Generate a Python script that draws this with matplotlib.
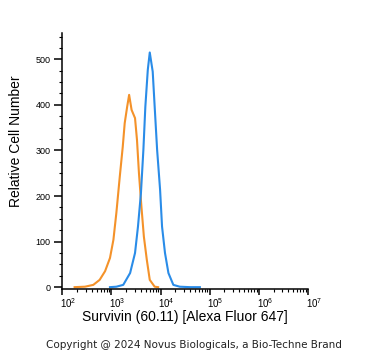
import numpy as np
import matplotlib
matplotlib.use("Agg")
import matplotlib.pyplot as plt
from matplotlib.ticker import LogLocator, NullFormatter, MultipleLocator
import matplotlib.transforms as mtransforms

plt.rcParams['font.family'] = ['Liberation Sans', 'DejaVu Sans']
plt.rcParams['mathtext.fontset'] = 'custom'
plt.rcParams['mathtext.rm'] = 'Liberation Sans'
plt.rcParams['mathtext.it'] = 'Liberation Sans'

# isotype control (orange): log10 intensity and cell counts
iso_log = [2.25, 2.46, 2.63, 2.76, 2.87, 2.97, 3.04, 3.10, 3.17, 3.23, 3.27,
           3.32, 3.36, 3.41, 3.48, 3.52, 3.56, 3.61, 3.66, 3.72, 3.78, 3.88, 3.95]
iso_cnt = [0, 1, 5, 16, 35, 64, 104, 163, 243, 308, 360,
           396, 422, 389, 371, 323, 250, 177, 111, 60, 16, 1, 0]

# Survivin (blue)
sur_log = [2.97, 3.10, 3.24, 3.38, 3.48, 3.54, 3.60, 3.65, 3.69, 3.74, 3.78,
           3.84, 3.88, 3.93, 3.99, 4.03, 4.09, 4.16, 4.26, 4.39, 4.60, 4.80]
sur_cnt = [0, 1, 5, 31, 75, 133, 206, 301, 396, 477, 515,
           473, 396, 301, 214, 133, 75, 31, 5, 1, 0, 0]

xticks = [1e2, 1e3, 1e4, 1e5, 1e6, 1e7]
xtick_labels = ['$10^{2}$', '$10^{3}$', '$10^{4}$', '$10^{5}$', '$10^{6}$', '$10^{7}$']
yticks = [0, 100, 200, 300, 400, 500]

fig = plt.figure(figsize=(3.71, 3.51), dpi=100)
ax = fig.add_axes([0.168, 0.178, 0.662, 0.727])

ax.plot(10 ** np.array(iso_log), iso_cnt, color='#F4922A', lw=1.5)
ax.plot(10 ** np.array(sur_log), sur_cnt, color='#2A8CE8', lw=1.5)

ax.set_xscale('log')
ax.set_xlim(1e2, 1e7)
ax.set_ylim(-3, 557)

ax.set_xticks(xticks)
ax.set_xticklabels(xtick_labels)
ax.xaxis.set_minor_locator(LogLocator(base=10, subs=np.arange(2, 10), numticks=20))
ax.xaxis.set_minor_formatter(NullFormatter())
ax.set_yticks(yticks)
ax.yaxis.set_minor_locator(MultipleLocator(25))

for s in ['top', 'right']:
    ax.spines[s].set_visible(False)
for s in ['left', 'bottom']:
    ax.spines[s].set_linewidth(1.1)

ax.tick_params(which='major', length=4.5, width=1.1, labelsize=6.5, pad=2)
ax.tick_params(which='minor', length=2.5, width=0.8)
ax.tick_params(axis='x', which='major', labelsize=7, pad=1)
ax.tick_params(axis='y', which='major', length=5.5, pad=3)

# shift x tick labels slightly right like the original
offset = mtransforms.ScaledTranslation(6 / 100, 0, fig.dpi_scale_trans)
for lab in ax.get_xticklabels():
    lab.set_transform(lab.get_transform() + offset)

ax.set_xlabel('Survivin (60.11) [Alexa Fluor 647]', fontsize=10)
ax.xaxis.set_label_coords(0.5, -0.083)
ax.set_ylabel('Relative Cell Number', fontsize=10)
ax.yaxis.set_label_coords(-0.16, 0.576)

fig.text(0.523, 0.017, 'Copyright @ 2024 Novus Biologicals, a Bio-Techne Brand',
         fontsize=7.5, family='DejaVu Sans', ha='center', va='center', color='#222222')

fig.savefig('out.png', dpi=100)
